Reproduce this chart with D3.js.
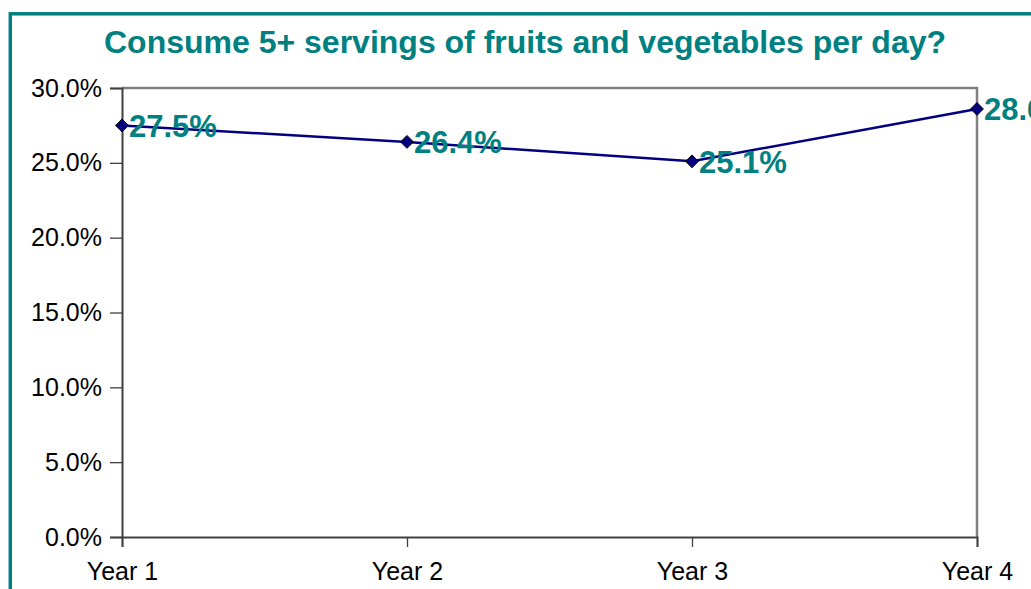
<html>
<head>
    <style>
        body { margin: 0; background: #fff; overflow: hidden; }
        text { font-family: Arial, "Liberation Sans", sans-serif; }
    </style>
</head>
<body>
    <script src="https://d3js.org/d3.v7.min.js"></script>
    <script>
        var width = 1031, height = 589;

        // data
        var years = ["Year 1", "Year 2", "Year 3", "Year 4"];
        var values = [27.5, 26.4, 25.1, 28.6];
        var yTicks = [0, 5, 10, 15, 20, 25, 30];
        var title = "Consume 5+ servings of fruits and vegetables per day?";

        var teal = "#008080", navy = "#000080";
        var margin = {top: 88, left: 122, right: 977, bottom: 537};

        var svg = d3.select("body").append("svg")
            .attr("width", width)
            .attr("height", height);

        // outer frame, runs off the right and bottom edge
        svg.append("rect")
            .attr("x", 10.3).attr("y", 13.8)
            .attr("width", 1060).attr("height", 620)
            .attr("fill", "none")
            .attr("stroke", teal)
            .attr("stroke-width", 3.5);

        svg.append("text")
            .attr("x", 525).attr("y", 53)
            .attr("text-anchor", "middle")
            .attr("fill", teal)
            .style("font-size", "32px")
            .style("font-weight", "bold")
            .text(title);

        var x = d3.scalePoint().domain(years).range([margin.left, margin.right]).padding(0);
        var y = d3.scaleLinear().domain([0, 30]).range([margin.bottom, margin.top]);

        // top + right plot border
        svg.append("path")
            .attr("d", "M" + margin.left + "," + margin.top + "H" + margin.right + "V" + margin.bottom)
            .attr("fill", "none")
            .attr("stroke", "#808080")
            .attr("stroke-width", 2.5);

        var yAxis = svg.append("g")
            .attr("transform", "translate(" + margin.left + ",0)")
            .call(d3.axisLeft(y).tickValues(yTicks).tickSize(12).tickPadding(8)
                .tickFormat(function (d) { return d.toFixed(1) + "%"; }));

        var xAxis = svg.append("g")
            .attr("transform", "translate(0," + margin.bottom + ")")
            .call(d3.axisBottom(x).tickSize(10).tickPadding(7));

        [yAxis, xAxis].forEach(function (g) {
            g.select(".domain").attr("stroke", "#404040").attr("stroke-width", 2);
            g.selectAll(".tick line").attr("stroke", "#404040").attr("stroke-width", 1.3);
            g.selectAll(".tick text").attr("fill", "#000").style("font-size", "25px").style("font-family", "Arial, 'Liberation Sans', sans-serif");
        });
        xAxis.selectAll(".tick text").attr("dy", "1.05em");

        var line = d3.line()
            .x(function (d, i) { return x(years[i]); })
            .y(function (d) { return y(d); });

        svg.append("path")
            .datum(values)
            .attr("d", line)
            .attr("fill", "none")
            .attr("stroke", navy)
            .attr("stroke-width", 2.5);

        svg.selectAll(".marker")
            .data(values)
            .enter().append("path")
            .attr("class", "marker")
            .attr("d", d3.symbol().type(d3.symbolDiamond2).size(105))
            .attr("transform", function (d, i) { return "translate(" + x(years[i]) + "," + y(d) + ")"; })
            .attr("fill", navy)
            .attr("stroke", "#000")
            .attr("stroke-width", 1);

        svg.selectAll(".label")
            .data(values)
            .enter().append("text")
            .attr("class", "label")
            .attr("x", function (d, i) { return x(years[i]) + 7; })
            .attr("y", function (d) { return y(d) + 11.5; })
            .attr("fill", teal)
            .style("font-size", "31px")
            .style("font-weight", "bold")
            .text(function (d) { return d.toFixed(1) + "%"; });
    </script>
</body>
</html>
